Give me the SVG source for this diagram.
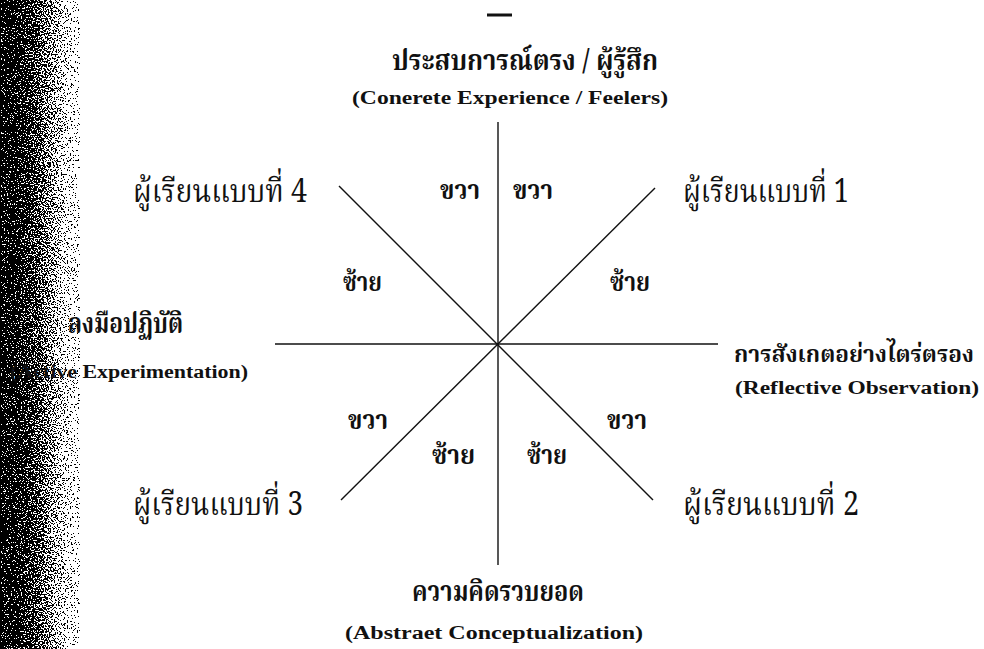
<svg xmlns="http://www.w3.org/2000/svg" width="984" height="649" viewBox="0 0 984 649">
<style>
.th{font-family:"Noto Serif Thai","Noto Sans Thai","Liberation Serif",serif;fill:#111}
.en{font-family:"Liberation Serif","DejaVu Serif",serif;font-weight:bold;fill:#111}
.lbl{font-size:32px}
.bd{font-weight:bold}
.sm{font-size:27px}
.hd{font-size:28px;font-weight:bold}
.ax{stroke:#111;stroke-width:1.4;fill:none}
</style>
<defs>
<linearGradient id="shade" x1="0" y1="0" x2="1" y2="0">
<stop offset="0" stop-color="#000" stop-opacity="1"/>
<stop offset="0.2" stop-color="#000" stop-opacity="0.97"/>
<stop offset="0.45" stop-color="#000" stop-opacity="0.72"/>
<stop offset="0.7" stop-color="#000" stop-opacity="0.32"/>
<stop offset="0.88" stop-color="#000" stop-opacity="0.07"/>
<stop offset="1" stop-color="#000" stop-opacity="0"/>
</linearGradient>
<filter id="grain" x="0" y="0" width="100%" height="100%">
<feTurbulence type="fractalNoise" baseFrequency="0.7" numOctaves="2" seed="7" result="n"/>
<feColorMatrix in="n" type="matrix" values="0 0 0 0 0  0 0 0 0 0  0 0 0 0 0  3.2 0 0 0 -1.1" result="na"/>
<feComposite in="SourceAlpha" in2="na" operator="arithmetic" k1="0" k2="1" k3="1" k4="-0.5" result="c"/>
<feComponentTransfer in="c">
<feFuncA type="discrete" tableValues="0 1"/>
</feComponentTransfer>
</filter>
</defs>
<rect width="984" height="649" fill="#fff"/>
<g id="scan-shadow">
<rect x="0" y="0" width="80" height="649" fill="url(#shade)" filter="url(#grain)"/>
</g>
<line x1="487" y1="15" x2="512" y2="15" stroke="#111" stroke-width="3"/>
<g id="connectors">
<line class="ax" x1="498" y1="122" x2="498" y2="565"/>
<line class="ax" x1="275" y1="344" x2="718" y2="344"/>
<line class="ax" x1="339" y1="186" x2="653" y2="500"/>
<line class="ax" x1="655" y1="188" x2="341" y2="500"/>
</g>
<g id="concrete-experience">
<text class="th hd" x="525" y="70" text-anchor="middle" textLength="266" lengthAdjust="spacingAndGlyphs">ประสบการณ์ตรง / ผู้รู้สึก</text>
<text class="en" x="510" y="104" font-size="18" text-anchor="middle" textLength="316" lengthAdjust="spacingAndGlyphs">(Conerete Experience / Feelers)</text>
</g>
<g id="reflective-observation">
<text class="th hd" x="734" y="362" style="font-size:22.5px" textLength="240" lengthAdjust="spacingAndGlyphs">การสังเกตอย่างไตร่ตรอง</text>
<text class="en" x="735" y="394" font-size="18" textLength="244" lengthAdjust="spacingAndGlyphs">(Reflective Observation)</text>
</g>
<g id="active-experimentation">
<text class="th hd" x="68" y="333" textLength="115" lengthAdjust="spacingAndGlyphs">ลงมือปฏิบัติ</text>
<text class="en" x="10" y="378" font-size="18" textLength="238" lengthAdjust="spacingAndGlyphs">(Active Experimentation)</text>
</g>
<g id="abstract-conceptualization">
<text class="th hd" x="498" y="601" text-anchor="middle" textLength="172" lengthAdjust="spacingAndGlyphs">ความคิดรวบยอด</text>
<text class="en" x="494" y="639" font-size="18" text-anchor="middle" textLength="298" lengthAdjust="spacingAndGlyphs">(Abstraet Conceptualization)</text>
</g>
<g id="learner-4"><text class="th lbl" x="133" y="202" textLength="174" lengthAdjust="spacingAndGlyphs">ผู้เรียนแบบที่ 4</text></g>
<g id="learner-1"><text class="th lbl" x="683" y="202" textLength="166" lengthAdjust="spacingAndGlyphs">ผู้เรียนแบบที่ 1</text></g>
<g id="learner-3"><text class="th lbl" x="133" y="515" textLength="170" lengthAdjust="spacingAndGlyphs">ผู้เรียนแบบที่ 3</text></g>
<g id="learner-2"><text class="th lbl" x="683" y="515" textLength="176" lengthAdjust="spacingAndGlyphs">ผู้เรียนแบบที่ 2</text></g>
<g id="quadrant-labels">
<text class="th sm bd" x="440" y="199" textLength="40" lengthAdjust="spacingAndGlyphs">ขวา</text>
<text class="th sm bd" x="513" y="199" textLength="40" lengthAdjust="spacingAndGlyphs">ขวา</text>
<text class="th sm bd" x="343" y="291" textLength="39" lengthAdjust="spacingAndGlyphs">ซ้าย</text>
<text class="th sm bd" x="610" y="291" textLength="40" lengthAdjust="spacingAndGlyphs">ซ้าย</text>
<text class="th sm bd" x="348" y="429" textLength="40" lengthAdjust="spacingAndGlyphs">ขวา</text>
<text class="th sm bd" x="607" y="429" textLength="40" lengthAdjust="spacingAndGlyphs">ขวา</text>
<text class="th sm bd" x="432" y="464" textLength="43" lengthAdjust="spacingAndGlyphs">ซ้าย</text>
<text class="th sm bd" x="527" y="464" textLength="40" lengthAdjust="spacingAndGlyphs">ซ้าย</text>
</g>
</svg>
